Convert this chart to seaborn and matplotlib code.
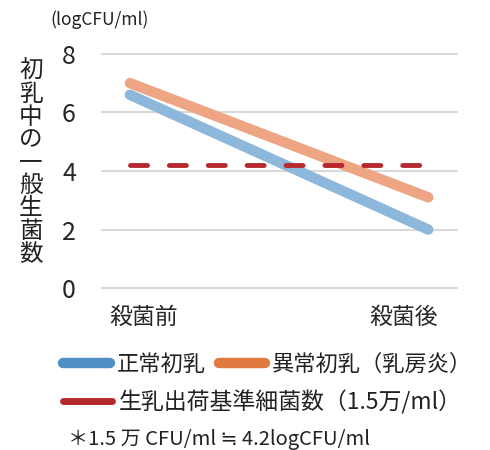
import pandas as pd
import matplotlib
matplotlib.use('Agg')
import matplotlib.pyplot as plt
from matplotlib.lines import Line2D
import seaborn as sns

# data
stages = ['殺菌前', '殺菌後']
normal = [6.6, 2.0]        # 正常初乳
mastitis = [7.0, 3.1]      # 異常初乳（乳房炎）
standard = [4.2, 4.2]      # 生乳出荷基準細菌数 (1.5万/ml)
yticks = [0, 2, 4, 6, 8]

sns.set_theme(style='white')
plt.rcParams['font.family'] = ['Noto Sans CJK JP', 'DejaVu Sans']
plt.rcParams['text.color'] = '#222222'

df = pd.DataFrame({'stage': stages * 3,
                   'value': normal + mastitis + standard,
                   'series': ['normal'] * 2 + ['mastitis'] * 2 + ['standard'] * 2})

fig = plt.figure(figsize=(4.9, 4.5), dpi=100)
ax = fig.add_axes([0.206, 0.353, 0.729, 0.534])

# thick solid lines
sns.lineplot(data=df[df.series == 'normal'], x='stage', y='value', ax=ax,
             color='#8DB8DB', linewidth=7.5, solid_capstyle='round', zorder=3)
sns.lineplot(data=df[df.series == 'mastitis'], x='stage', y='value', ax=ax,
             color='#EDA583', linewidth=7.5, solid_capstyle='round', zorder=4)
# dashed threshold line
sns.lineplot(data=df[df.series == 'standard'], x='stage', y='value', ax=ax,
             color='#B5282E', linewidth=3.5, dashes=False, zorder=5)
ax.lines[-1].set_dashes((3.5, 4.5))
ax.lines[-1].set_dash_capstyle('round')

ax.set_xlim(-0.097, 1.10)
ax.set_ylim(-0.1, 8.1)
ax.set_yticks(yticks)
ax.set_yticklabels([str(t) for t in yticks], fontsize=18)
ax.set_xticks([0.047, 0.917])
ax.set_xticklabels(stages, fontsize=16.5)
ax.tick_params(axis='y', length=0, pad=18)
ax.tick_params(axis='x', length=0, pad=11)
ax.set_xlabel('')
ax.set_ylabel('')
ax.yaxis.grid(True, color='#D9D9D9', linewidth=1.5)
ax.set_axisbelow(True)
for s in ax.spines.values():
    s.set_visible(False)

# vertical y-axis title and unit
fig.text(31 / 490, 1 - 163 / 450, '\n'.join('初乳中の一般生菌数'), fontsize=17,
         ha='center', va='center', linespacing=0.99)
fig.text(100 / 490, 1 - 20 / 450, '(logCFU/ml)', fontsize=12.5, ha='center', va='center')

# legends
h1 = [Line2D([], [], color='#4E8FC6', linewidth=7.5, solid_capstyle='round'),
      Line2D([], [], color='#E07A40', linewidth=7.5, solid_capstyle='round')]
leg1 = fig.legend(h1, ['正常初乳', '異常初乳（乳房炎）'], ncol=2, frameon=False,
                  fontsize=16, handlelength=2.1, handletextpad=0.3, columnspacing=0.6,
                  loc='center left', bbox_to_anchor=(52 / 490, 1 - 364 / 450), borderpad=0)
h2 = [Line2D([], [], color='#B5282E', linewidth=5, solid_capstyle='round')]
leg2 = fig.legend(h2, ['生乳出荷基準細菌数（1.5万/ml）'], frameon=False,
                  fontsize=16.5, handlelength=2.1, handletextpad=0.3,
                  loc='center left', bbox_to_anchor=(52 / 490, 1 - 402 / 450), borderpad=0)

fig.text(68 / 490, 1 - 439 / 450, '＊1.5 万 CFU/ml ≒ 4.2logCFU/ml', fontsize=14.5,
         ha='left', va='center')

fig.savefig('out.png', dpi=100)
